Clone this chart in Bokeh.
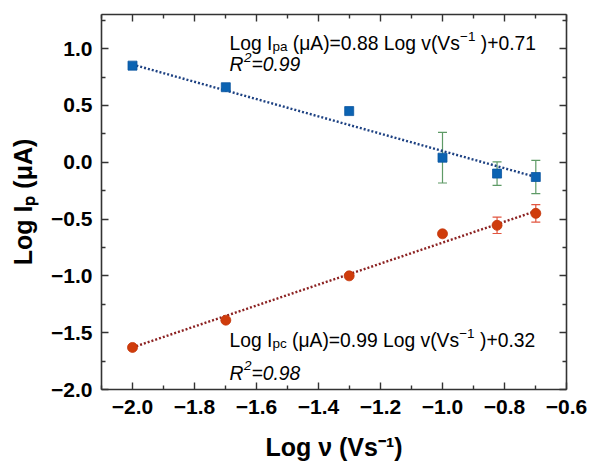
from bokeh.plotting import figure
from bokeh.models import (ColumnDataSource, Whisker, TeeHead, Label, LinearAxis,
                          FixedTicker)
from bokeh.embed import file_html
from bokeh.resources import INLINE

# ---------------- data ----------------
log_v = [-2.0, -1.699, -1.301, -1.0, -0.824, -0.699]
log_ipa = [0.85, 0.66, 0.45, 0.04, -0.10, -0.13]
ipa_err = [0.0, 0.0, 0.0, 0.223, 0.103, 0.146]
log_ipc = [-1.63, -1.39, -1.00, -0.63, -0.555, -0.45]
ipc_err = [0.0, 0.0, 0.0, 0.0, 0.072, 0.077]

fit_x = [-2.0, -0.699]
fit_pa = [0.86, -0.13]
fit_pc = [-1.63, -0.43]

x_ticks = [-2.0, -1.8, -1.6, -1.4, -1.2, -1.0, -0.8, -0.6]
x_tick_labels = ["−2.0", "−1.8", "−1.6", "−1.4", "−1.2", "−1.0", "−0.8", "−0.6"]
x_minor = [-2.1, -1.9, -1.7, -1.5, -1.3, -1.1, -0.9, -0.7]
y_ticks = [-2.0, -1.5, -1.0, -0.5, 0.0, 0.5, 1.0]
y_tick_labels = ["−2.0", "−1.5", "−1.0", "−0.5", "0.0", "0.5", "1.0"]
y_minor = [-1.75, -1.25, -0.75, -0.25, 0.25, 0.75, 1.25]

eq_pa = ["Log I", "pa", " (μA)=0.88 Log v(Vs", "−1", " )+0.71"]
eq_pc = ["Log I", "pc", " (μA)=0.99 Log v(Vs", "−1", " )+0.32"]
r2_pa = ["R", "2", "=0.99"]
r2_pc = ["R", "2", "=0.98"]
x_title = "Log ν (Vs⁻¹)"
y_title = "Log Iₚ (μA)"

# ---------------- figure ----------------
X0, X1, Y0, Y1 = -2.1, -0.6, -2.0, 1.3
FL, FR, FT, FB = 101, 566, 14, 389  # frame in page px

p = figure(width=592, height=466, x_range=(X0, X1), y_range=(Y0, Y1),
           output_backend="svg", toolbar_location=None,
           min_border_left=FL, min_border_right=592 - FR, min_border_top=FT,
           min_border_bottom=466 - FB)
p.outline_line_color = None
p.xgrid.visible = False
p.ygrid.visible = False

FONT = "Liberation Sans"
AX_COL = "#333333"


def style_axis(ax, ticks, minor, labels, show):
    ax.ticker = FixedTicker(ticks=ticks, minor_ticks=minor)
    ax.axis_line_color = AX_COL
    ax.axis_line_width = 1.6
    ax.major_tick_line_color = AX_COL
    ax.minor_tick_line_color = AX_COL
    ax.major_tick_line_width = 1.4
    ax.minor_tick_line_width = 1.4
    ax.major_tick_in = 7
    ax.major_tick_out = 0
    ax.minor_tick_in = 4
    ax.minor_tick_out = 0
    if show:
        ax.major_label_overrides = {t: l for t, l in zip(ticks, labels)}
        ax.major_label_text_font = FONT
        ax.major_label_text_font_style = "bold"
        ax.major_label_text_font_size = "21px"
        ax.major_label_text_color = "black"
    else:
        ax.major_label_overrides = {t: "" for t in ticks}
        ax.major_label_standoff = 0


style_axis(p.xaxis[0], x_ticks, x_minor, x_tick_labels, True)
style_axis(p.yaxis[0], y_ticks, y_minor, y_tick_labels, True)
p.xaxis[0].major_label_standoff = 10
p.yaxis[0].major_label_standoff = 9

for ax, title, st in ((p.xaxis[0], x_title, 16), (p.yaxis[0], y_title, 11)):
    ax.axis_label = title
    ax.axis_label_text_font = FONT
    ax.axis_label_text_font_style = "bold"
    ax.axis_label_text_font_size = "25px"
    ax.axis_label_text_color = "black"
    ax.axis_label_standoff = st

top = LinearAxis()
style_axis(top, x_ticks, x_minor, x_tick_labels, False)
p.add_layout(top, "above")
right = LinearAxis()
style_axis(right, y_ticks, y_minor, y_tick_labels, False)
p.add_layout(right, "right")

# ---------------- fit lines ----------------
p.line(fit_x, fit_pa, line_color="#1d4182", line_width=2.4, line_dash="2 2")
p.line(fit_x, fit_pc, line_color="#8c2222", line_width=2.4, line_dash="2 2")


# ---------------- error bars ----------------
def whisk(vals, errs, color):
    xs = [x for x, e in zip(log_v, errs) if e > 0]
    ys = [y for y, e in zip(vals, errs) if e > 0]
    es = [e for e in errs if e > 0]
    src = ColumnDataSource(dict(x=xs, up=[y + e for y, e in zip(ys, es)],
                                lo=[y - e for y, e in zip(ys, es)]))
    w = Whisker(source=src, base="x", upper="up", lower="lo",
                line_color=color, line_width=1.2,
                upper_head=TeeHead(size=9, line_color=color, line_width=1.2),
                lower_head=TeeHead(size=9, line_color=color, line_width=1.2))
    p.add_layout(w)


whisk(log_ipa, ipa_err, "#5e9a66")
whisk(log_ipc, ipc_err, "#e2553f")

# ---------------- markers ----------------
p.scatter(log_v, log_ipa, marker="square", size=9, fill_color="#0b63b2",
          line_color="#0b55a0", line_width=0.8)
p.scatter(log_v, log_ipc, marker="circle", size=10, fill_color="#cf3c0c",
          line_color="#c4360a", line_width=0.8)

# ---------------- text helpers ----------------
W_REG = {' ': 278, '(': 333, ')': 333, '+': 584, '=': 584, '.': 278, 'A': 667,
         'I': 278, 'L': 556, 'V': 667, 'a': 556, 'c': 500, 'g': 556, 'o': 556,
         'p': 556, 's': 500, 'v': 500, 'μ': 576, '−': 584, 'R': 722, '-': 333}


def tw(s, size):
    return sum(W_REG.get(c, 556) for c in s) / 1000.0 * size


def dx(sx):
    return X0 + (sx - FL) * (X1 - X0) / (FR - FL)


def dy(sy):
    return Y1 - (sy - FT) * (Y1 - Y0) / (FB - FT)


def put(sx, sy, text, size, style="normal"):
    # leading spaces are collapsed in SVG text: move them into the position
    lead = len(text) - len(text.lstrip(" "))
    sx += tw(" " * lead, size)
    p.add_layout(Label(x=dx(sx), y=dy(sy), text=text.lstrip(" "), text_font=FONT,
                       text_font_size=f"{size}px", text_font_style=style,
                       text_color="black", text_baseline="alphabetic",
                       text_align="left"))


BIG, SMALL = 19.3, 13.5


def equation(parts, sx, sy):
    x = sx
    put(x, sy, parts[0], BIG); x += tw(parts[0], BIG)
    put(x, sy + 3, parts[1], SMALL); x += tw(parts[1], SMALL)
    put(x, sy, parts[2], BIG); x += tw(parts[2], BIG)
    put(x, sy - 7.5, parts[3], SMALL); x += tw(parts[3], SMALL)
    put(x, sy, parts[4], BIG)


def r2(parts, sx, sy):
    x = sx
    put(x, sy, parts[0], BIG, "italic"); x += tw(parts[0], BIG) + 0.5
    put(x, sy - 7.5, parts[1], SMALL, "italic"); x += tw(parts[1], SMALL)
    put(x, sy, parts[2], BIG, "italic")


equation(eq_pa, 229, 43)
r2(r2_pa, 229, 64)
equation(eq_pc, 229, 340)
r2(r2_pc, 229, 372.5)

open("out.html", "w").write(file_html(p, INLINE))
